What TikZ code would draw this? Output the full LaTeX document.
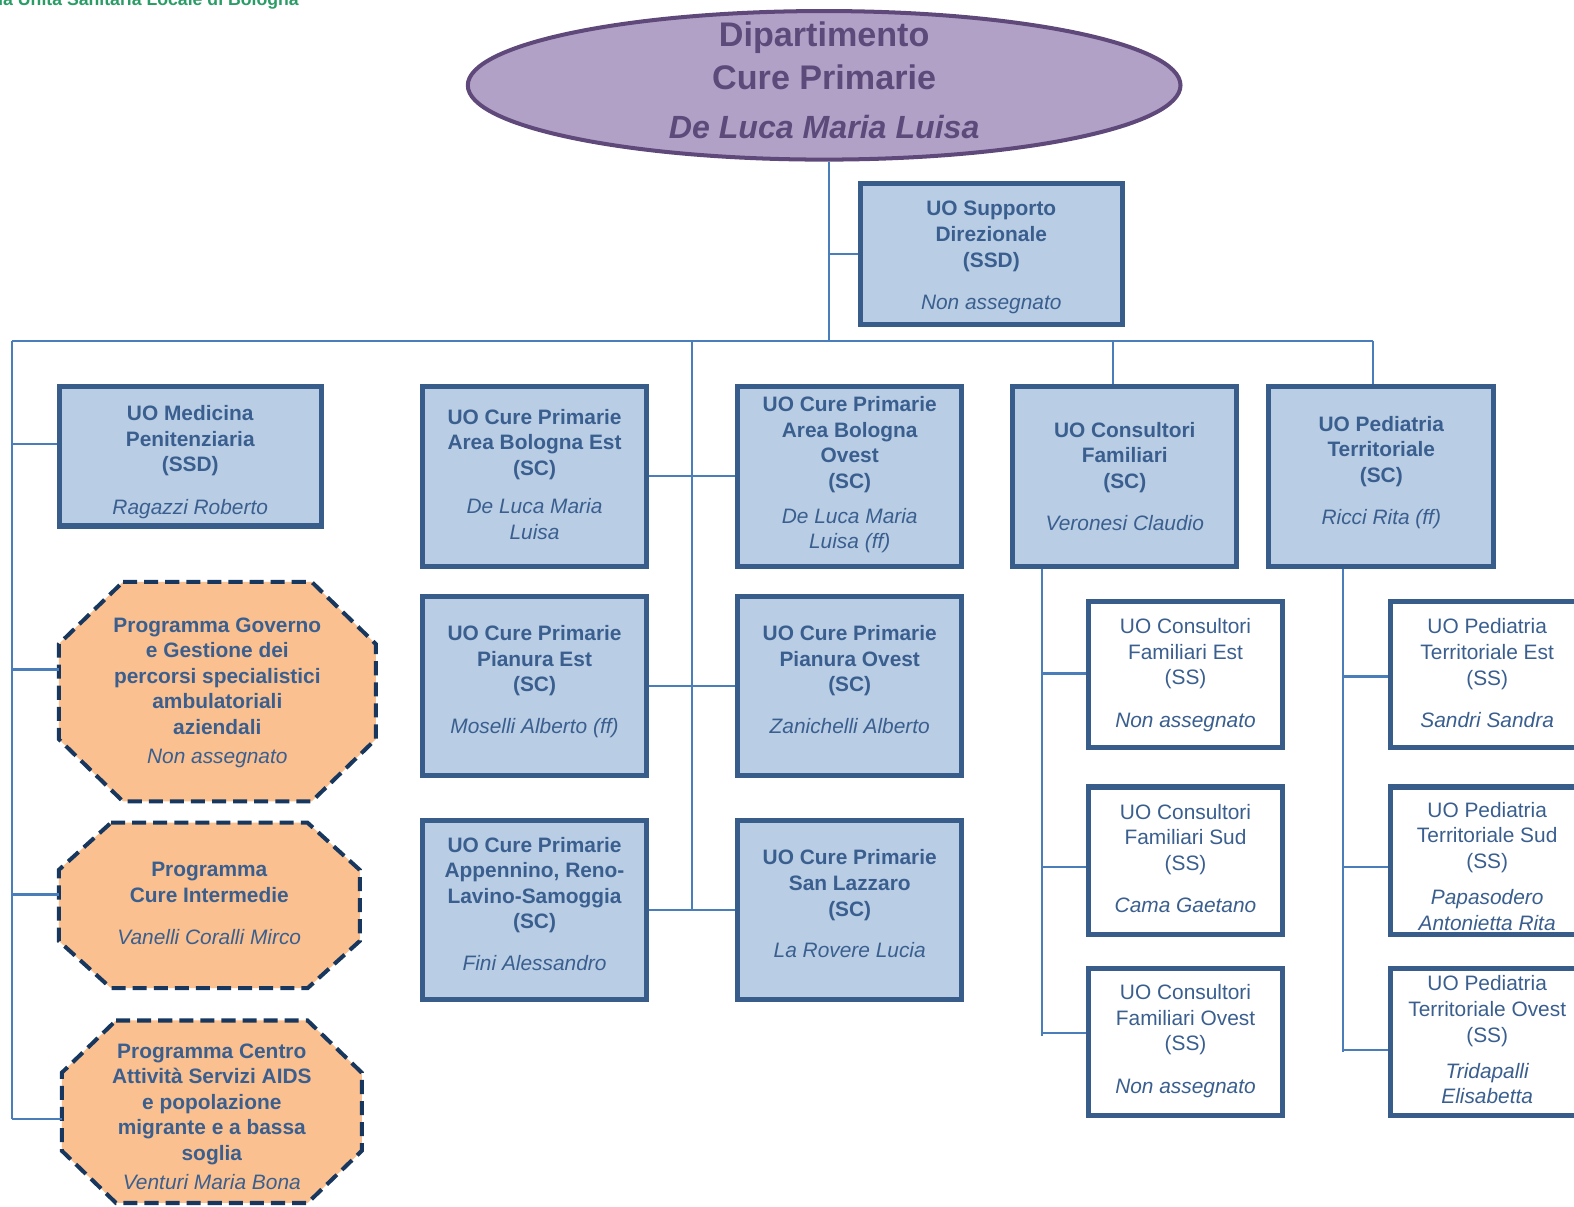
\documentclass[tikz,border=0pt]{standalone}
\usepackage{fontspec}
\setmainfont{Liberation Sans}
\usetikzlibrary{fit,calc,backgrounds,shapes.geometric}
\definecolor{boxfill}{HTML}{B9CDE5}
\definecolor{boxline}{HTML}{385D8A}
\definecolor{txtc}{HTML}{3A5F8F}
\definecolor{connc}{HTML}{4A7EBB}
\definecolor{octfill}{HTML}{FAC090}
\definecolor{octline}{HTML}{17375E}
\definecolor{elfill}{HTML}{B2A1C7}
\definecolor{elline}{HTML}{5F497A}
\definecolor{eltxt}{HTML}{5C4A7A}
\definecolor{greenh}{HTML}{2A9D66}
\newcommand\persona[1]{{\mdseries\itshape #1}}
% box: style, fit corners, name, text shift (px, down), text
\newcommand\unitbox[5]{\node[#1, fit={#2}] (#3) {};
  \node[#1txt] (#3t) at ($(#3.center)+(0,#4)$) {#5};}
\newcommand\octshape[3]{\draw[octa] ($(#1.north west)+(#2,0)$) -- ($(#1.north east)+(-#2,0)$) -- ($(#1.north east)+(0,#3)$) -- ($(#1.south east)+(0,-#3)$) -- ($(#1.south east)+(-#2,0)$) -- ($(#1.south west)+(#2,0)$) -- ($(#1.south west)+(0,-#3)$) -- ($(#1.north west)+(0,#3)$) -- cycle;}
\begin{document}
\begin{tikzpicture}[x=0.5pt,y=-0.5pt,
 bbox/.style={draw=boxline, line width=2.5pt, fill=boxfill, inner sep=0pt},
 sbox/.style={bbox, fill=white},
 obox/.style={inner sep=0pt},
 bboxtxt/.style={text=txtc, inner sep=0pt, align=center, font=\fontsize{10.4}{12.75}\selectfont\bfseries},
 sboxtxt/.style={bboxtxt, font=\fontsize{10.4}{12.75}\selectfont},
 oboxtxt/.style={bboxtxt},
 octa/.style={draw=octline, fill=octfill, line width=2pt, dash pattern=on 7pt off 3.5pt},
 conn/.style={draw=connc, line width=1.1pt}]
\useasboundingbox (0,0) rectangle (1568,1202);
\clip (0,0) rectangle (1568,1202);

% header
\node[anchor=base east, text=greenh, font=\fontsize{8.8}{10}\selectfont\bfseries, inner sep=0pt] (hdr) at (298,5) {Azienda Unità Sanitaria Locale di Bologna};

% department ellipse
\node[ellipse, draw=elline, line width=2pt, fill=elfill, minimum width=355pt, minimum height=74pt, inner sep=0pt] (dept) at (821,85) {};
\node[text=eltxt, align=center, inner sep=0pt, font=\fontsize{17}{21.5}\selectfont\bfseries] (depttxt) at (821,80) {Dipartimento\\Cure Primarie\\[2.5pt]{\fontsize{16}{21.5}\selectfont\itshape De Luca Maria Luisa}};

% boxes
\unitbox{bbox}{(857,183)(1118,323)}{ssd}{3.5}{UO Supporto\\Direzionale\\(SSD)\\[8.25pt]\persona{Non assegnato}}
\unitbox{bbox}{(59,385)(320,524)}{med}{6}{UO Medicina\\Penitenziaria\\(SSD)\\[8.75pt]\persona{Ragazzi Roberto}}
\unitbox{bbox}{(421,385)(644,564)}{bEst}{-2}{UO Cure Primarie\\Area Bologna Est\\(SC)\\[6.25pt]\persona{De Luca Maria}\\\persona{Luisa}}
\unitbox{bbox}{(735,385)(958,564)}{bOvest}{-1.5}{UO Cure Primarie\\Area Bologna\\Ovest\\(SC)\\[4.75pt]\persona{De Luca Maria}\\\persona{Luisa (ff)}}
\unitbox{bbox}{(421,594)(644,773)}{pEst}{-4.5}{UO Cure Primarie\\Pianura Est\\(SC)\\[8pt]\persona{Moselli Alberto (ff)}}
\unitbox{bbox}{(735,594)(958,773)}{pOvest}{-6.5}{UO Cure Primarie\\Pianura Ovest\\(SC)\\[8pt]\persona{Zanichelli Alberto}}
\unitbox{bbox}{(421,817)(644,996)}{app}{-6}{UO Cure Primarie\\Appennino, Reno-\\Lavino-Samoggia\\(SC)\\[8pt]\persona{Fini Alessandro}}
\unitbox{bbox}{(735,817)(958,996)}{slz}{-6}{UO Cure Primarie\\San Lazzaro\\(SC)\\[8pt]\persona{La Rovere Lucia}}
\unitbox{bbox}{(1009,385)(1232,564)}{cons}{0}{UO Consultori\\Familiari\\(SC)\\[8pt]\persona{Veronesi Claudio}}
\unitbox{bbox}{(1264,385)(1488,564)}{ped}{-4}{UO Pediatria\\Territoriale\\(SC)\\[8.25pt]\persona{Ricci Rita (ff)}}

\unitbox{sbox}{(1084,599)(1278,745)}{cEst}{0.5}{UO Consultori\\Familiari Est\\(SS)\\[8.25pt]\persona{Non assegnato}}
\unitbox{sbox}{(1084,784)(1278,931)}{cSud}{-2.5}{UO Consultori\\Familiari Sud\\(SS)\\[8.25pt]\persona{Cama Gaetano}}
\unitbox{sbox}{(1084,965)(1278,1111)}{cOv}{-1}{UO Consultori\\Familiari Ovest\\(SS)\\[8.25pt]\persona{Non assegnato}}
\unitbox{sbox}{(1385,599)(1578,745)}{pdEst}{-1.5}{UO Pediatria\\Territoriale Est\\(SS)\\[8.25pt]\persona{Sandri Sandra}}
\unitbox{sbox}{(1385,784)(1578,931)}{pdSud}{5.5}{UO Pediatria\\Territoriale Sud\\(SS)\\[5.25pt]\persona{Papasodero}\\\persona{Antonietta Rita}}
\unitbox{sbox}{(1385,965)(1578,1111)}{pdOv}{-2}{UO Pediatria\\Territoriale Ovest\\(SS)\\[5.25pt]\persona{Tridapalli}\\\persona{Elisabetta}}

% programmes (octagons)
\node[obox, fit={(59,580)(374,798)}] (prog1) {};
\node[obox, fit={(59,820)(358,984)}] (prog2) {};
\node[obox, fit={(62,1017)(360,1198)}] (prog3) {};
\octshape{prog1}{64}{62}
\octshape{prog2}{52}{47}
\octshape{prog3}{54}{52}
\node[oboxtxt] (prog1t) at ($(prog1.center)+(0,1)$) {Programma Governo\\e Gestione dei\\percorsi specialistici\\ambulatoriali\\aziendali\\[1.75pt]\persona{Non assegnato}};
\node[oboxtxt] (prog2t) at ($(prog2.center)+(0,-2)$) {Programma\\Cure Intermedie\\[8.25pt]\persona{Vanelli Coralli Mirco}};
\node[oboxtxt] (prog3t) at ($(prog3.center)+(0,5)$) {Programma Centro\\Attività Servizi AIDS\\e popolazione\\migrante e a bassa\\soglia\\[1.75pt]\persona{Venturi Maria Bona}};

% connectors
\coordinate (busL) at (12,340);
\coordinate (busR) at (1368,340);
\coordinate (dBot) at ($(dept.south)+(5,0)$);
\draw[conn] (dBot) -- (dBot |- busL);
\draw[conn] (ssd.west) -- (ssd.west -| dBot);
\draw[conn] (busL) -- (busR);

\coordinate (jMed) at (12,442);
\coordinate (jP1) at (12,667);
\coordinate (jP2) at (12,891);
\coordinate (jP3) at (12,1115);
\draw[conn] (busL) -- (jP3);
\draw[conn] (jMed) -- (jMed -| med.west);
\draw[conn] (jP1) -- (jP1 -| prog1.west);
\draw[conn] (jP2) -- (jP2 -| prog2.west);
\draw[conn] (jP3) -- (jP3 -| prog3.west);

\coordinate (cTop) at (689,340);
\draw[conn] (cTop) -- (cTop |- app.east);
\draw[conn] (bEst.east) -- (bOvest.west);
\draw[conn] (pEst.east) -- (pOvest.west);
\draw[conn] (app.east) -- (slz.west);

\coordinate (kTop) at (1109,340);
\draw[conn] (kTop) -- (kTop |- cons.north);
\draw[conn] (busR) -- (busR |- ped.north);

\coordinate (kv) at (1038,1032);
\coordinate (kc1) at (1038,671);
\coordinate (kc2) at (1038,864);
\coordinate (kc3) at (1038,1029);
\draw[conn] (kv |- cons.south) -- (kv);
\draw[conn] (kc1) -- (kc1 -| cEst.west);
\draw[conn] (kc2) -- (kc2 -| cSud.west);
\draw[conn] (kc3) -- (kc3 -| cOv.west);

\coordinate (pv) at (1338,1048);
\coordinate (pc1) at (1338,674);
\coordinate (pc2) at (1338,864);
\coordinate (pc3) at (1338,1046);
\draw[conn] (pv |- ped.south) -- (pv);
\draw[conn] (pc1) -- (pc1 -| pdEst.west);
\draw[conn] (pc2) -- (pc2 -| pdSud.west);
\draw[conn] (pc3) -- (pc3 -| pdOv.west);
\end{tikzpicture}
\end{document}
